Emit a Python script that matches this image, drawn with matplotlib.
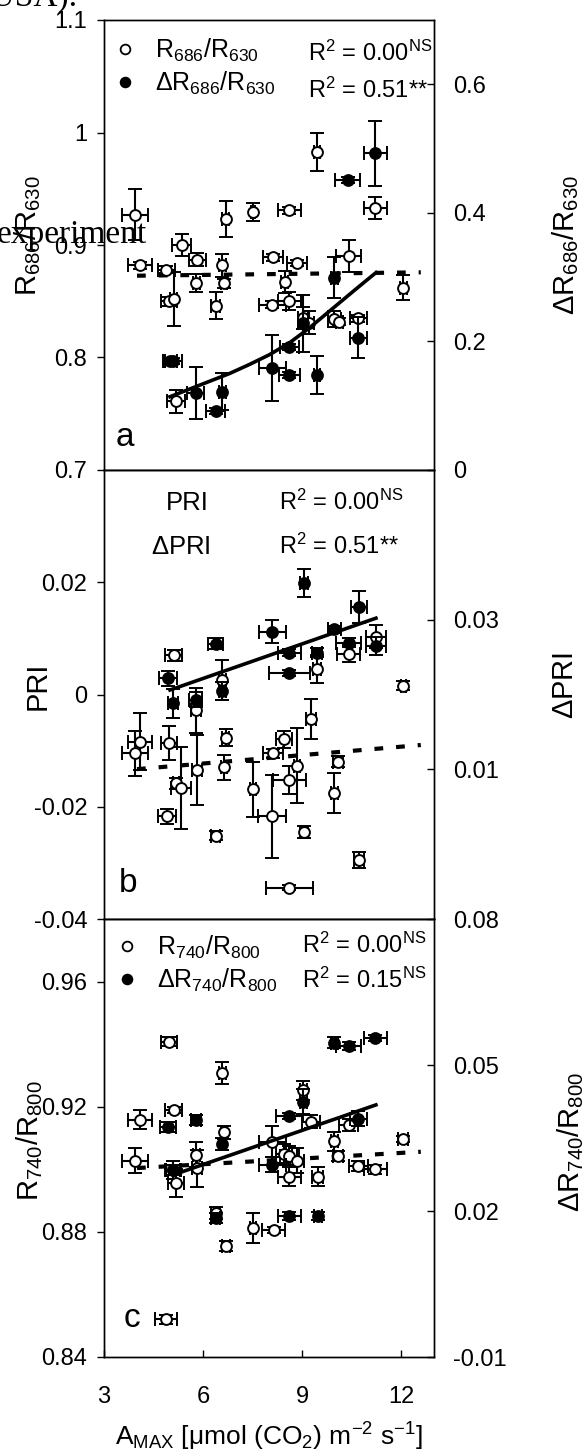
import numpy as np
import matplotlib
matplotlib.use('Agg')
import matplotlib.pyplot as plt
from matplotlib.lines import Line2D
from matplotlib.ticker import FuncFormatter

plt.rcParams['font.family'] = 'Liberation Sans'
plt.rcParams['mathtext.fontset'] = 'custom'
plt.rcParams['mathtext.rm'] = 'Liberation Sans'
plt.rcParams['mathtext.it'] = 'Liberation Sans:italic'
plt.rcParams['mathtext.default'] = 'regular'
plt.rcParams['axes.unicode_minus'] = False

# ---- panel a: R686/R630 (open, left) and dR686/R630 (filled, right)
a_open_x = [3.94, 5.35, 6.69, 7.51, 8.62, 9.46, 11.22, 4.09, 4.89, 5.83, 5.80, 6.59, 6.64, 4.97, 5.11,
            6.38, 8.12, 8.84, 8.47, 8.10, 8.62, 9.04, 9.22, 10.41, 9.98, 10.13, 10.71, 12.07, 5.18]
a_open_y = [0.927, 0.900, 0.923, 0.929, 0.931, 0.983, 0.933, 0.882, 0.878, 0.887, 0.866, 0.882, 0.866,
            0.850, 0.852, 0.846, 0.889, 0.884, 0.867, 0.847, 0.850, 0.835, 0.831, 0.890, 0.834, 0.832,
            0.835, 0.862, 0.761]
a_open_xerr = [0.40, 0.30, 0.10, 0.07, 0.35, 0.10, 0.35, 0.37, 0.25, 0.25, 0.10, 0.10, 0.08, 0.25, 0.10,
               0.15, 0.30, 0.30, 0.10, 0.40, 0.35, 0.15, 0.15, 0.38, 0.20, 0.10, 0.25, 0.10, 0.27]
a_open_yerr = [0.023, 0.010, 0.016, 0.008, 0.003, 0.017, 0.010, 0.003, 0.003, 0.006, 0.008, 0.010, 0.004,
               0.004, 0.024, 0.012, 0.003, 0.003, 0.010, 0.003, 0.008, 0.010, 0.010, 0.014, 0.007, 0.003,
               0.003, 0.011, 0.010]
a_fill_x = [11.22, 10.38, 9.98, 9.04, 10.71, 8.62, 8.10, 8.62, 9.46, 5.00, 5.10, 5.78, 6.59, 6.38]
a_fill_y = [0.4925, 0.451, 0.299, 0.228, 0.206, 0.191, 0.159, 0.148, 0.148, 0.170, 0.170, 0.120, 0.122, 0.092]
a_fill_xerr = [0.35, 0.37, 0.10, 0.15, 0.25, 0.30, 0.40, 0.32, 0.10, 0.20, 0.25, 0.25, 0.10, 0.30]
a_fill_yerr = [0.051, 0.005, 0.032, 0.045, 0.032, 0.005, 0.051, 0.005, 0.029, 0.005, 0.005, 0.040, 0.029, 0.005]
a_dash_x = [4.0, 12.6]
a_dash_y = [0.8727, 0.8757]
a_fit_x = [5.0, 5.9, 6.8, 7.4, 8.0, 8.6, 9.2, 9.9, 10.6, 11.24]
a_fit_y = [0.114, 0.132, 0.150, 0.164, 0.179, 0.197, 0.220, 0.250, 0.280, 0.307]

# ---- panel b: PRI (open, left) and dPRI (filled, right)
b_open_x = [11.24, 10.41, 9.46, 5.11, 6.59, 12.07, 5.78, 9.27, 4.09, 3.94, 4.97, 6.69, 8.45, 8.12, 8.85,
            5.82, 6.64, 10.08, 5.18, 5.33, 8.62, 7.51, 9.98, 4.91, 8.10, 6.38, 9.07, 10.73, 8.62]
b_open_y = [0.0103, 0.0073, 0.0045, 0.0070, 0.0026, 0.0016, -0.0028, -0.0044, -0.0084, -0.0105, -0.0087,
            -0.0077, -0.0080, -0.0105, -0.0127, -0.0135, -0.0130, -0.0120, -0.0158, -0.0166, -0.0152,
            -0.0169, -0.0176, -0.0217, -0.0217, -0.0252, -0.0245, -0.0295, -0.0344]
b_open_xerr = [0.30, 0.35, 0.12, 0.25, 0.10, 0.08, 0.15, 0.15, 0.37, 0.40, 0.25, 0.10, 0.25, 0.30, 0.10,
               0.15, 0.10, 0.15, 0.10, 0.30, 0.50, 0.10, 0.10, 0.28, 0.42, 0.15, 0.12, 0.15, 0.72]
b_open_yerr = [0.0020, 0.0015, 0.0025, 0.0010, 0.0035, 0.0008, 0.0040, 0.0036, 0.0051, 0.0040, 0.0030,
               0.0015, 0.0015, 0.0008, 0.0067, 0.0062, 0.0022, 0.0010, 0.0010, 0.0073, 0.0025, 0.0049,
               0.0036, 0.0013, 0.0074, 0.0008, 0.0010, 0.0015, 0.0004]
b_fill_x = [9.07, 10.73, 8.10, 9.98, 6.38, 10.41, 11.24, 8.62, 9.46, 8.62, 4.94, 6.59, 5.09, 5.78]
b_fill_y = [0.0349, 0.0317, 0.0284, 0.0287, 0.0268, 0.0269, 0.0265, 0.0256, 0.0256, 0.0229, 0.0222,
            0.0205, 0.0188, 0.0193]
b_fill_xerr = [0.12, 0.25, 0.41, 0.20, 0.22, 0.37, 0.30, 0.35, 0.15, 0.63, 0.27, 0.12, 0.15, 0.20]
b_fill_yerr = [0.0019, 0.0021, 0.0015, 0.0005, 0.0007, 0.0006, 0.0012, 0.0005, 0.0006, 0.0004, 0.0010,
               0.0012, 0.0019, 0.0010]
b_dash_x = [4.0, 12.6]
b_dash_y = [-0.0133, -0.0090]
b_fit_x = [5.0, 11.24]
b_fit_y = [0.0206, 0.0302]

# ---- panel c: R740/R800 (open, left) and dR740/R800 (filled, right)
c_open_x = [4.97, 6.59, 9.04, 5.11, 4.09, 9.27, 10.41, 6.64, 8.10, 9.98, 12.07, 5.80, 8.45, 8.62, 8.85,
            10.08, 3.94, 10.71, 11.22, 5.09, 5.18, 5.83, 8.62, 9.48, 6.38, 7.51, 8.14, 6.69, 4.89]
c_open_y = [0.9408, 0.9307, 0.9253, 0.9190, 0.9158, 0.9152, 0.9142, 0.9118, 0.9088, 0.9090, 0.9096,
            0.9046, 0.9050, 0.9043, 0.9028, 0.9043, 0.9028, 0.9010, 0.9000, 0.8998, 0.8955, 0.9003,
            0.8976, 0.8976, 0.8860, 0.8812, 0.8806, 0.8755, 0.8520]
c_open_xerr = [0.25, 0.10, 0.10, 0.25, 0.37, 0.28, 0.30, 0.10, 0.40, 0.10, 0.15, 0.10, 0.25, 0.30, 0.20,
               0.15, 0.40, 0.30, 0.35, 0.20, 0.25, 0.15, 0.35, 0.17, 0.15, 0.10, 0.35, 0.12, 0.33]
c_open_yerr = [0.0015, 0.0035, 0.0030, 0.0010, 0.0030, 0.0020, 0.0020, 0.0020, 0.0050, 0.0030, 0.0010,
               0.0040, 0.0030, 0.0030, 0.0040, 0.0015, 0.0040, 0.0015, 0.0015, 0.0030, 0.0045, 0.0060,
               0.0030, 0.0030, 0.0020, 0.0048, 0.0010, 0.0015, 0.0015]
c_fill_x = [11.22, 9.98, 10.41, 9.04, 8.62, 10.71, 5.78, 4.94, 6.59, 5.09, 8.10, 6.38, 8.62, 9.48]
c_fill_y = [0.0555, 0.0546, 0.0539, 0.0425, 0.0395, 0.0390, 0.0387, 0.0372, 0.0338, 0.0284, 0.0295,
            0.0185, 0.0190, 0.0190]
c_fill_xerr = [0.35, 0.10, 0.37, 0.10, 0.40, 0.25, 0.15, 0.25, 0.12, 0.25, 0.40, 0.15, 0.35, 0.12]
c_fill_yerr = [0.0006, 0.0012, 0.0008, 0.0025, 0.0006, 0.0015, 0.0010, 0.0010, 0.0012, 0.0010, 0.0015,
               0.0010, 0.0008, 0.0008]
c_dash_x = [4.0, 12.6]
c_dash_y = [0.9004, 0.9056]
c_fit_x = [5.3, 11.24]
c_fit_y = [0.0279, 0.0418]

X_TICKS = [3, 6, 9, 12]

W, H = 585, 1455
fig = plt.figure(figsize=(W / 100, H / 100), dpi=100)
fig.patch.set_facecolor('white')


def px_axes(top, bottom, left=104, right=434):
    return fig.add_axes([left / W, 1 - bottom / H, (right - left) / W, (bottom - top) / H])


def fmt(v, pos):
    return '%g' % round(v, 4)


EB = dict(ecolor='black', elinewidth=1.5, capsize=5, capthick=1.5, ms=7.8, mew=1.4, mec='black', ls='none')


def draw_panel(ax, ox, oy, oxe, oye, fx, fy, fxe, fye, dx, dy, tx, ty, ylim_l, ylim_r, lt, rt):
    axr = ax.twinx()
    ax.plot(dx, dy, color='black', lw=3.0, ls=(0, (2.1, 3.1)), zorder=2)
    ax.errorbar(ox, oy, xerr=oxe, yerr=oye, fmt='o', mfc='white', zorder=3, **EB)
    axr.plot(tx, ty, color='black', lw=2.6, zorder=2)
    axr.errorbar(fx, fy, xerr=fxe, yerr=fye, fmt='o', mfc='black', zorder=3, **EB)
    ax.set_xlim(3, 13)
    ax.set_ylim(*ylim_l)
    axr.set_ylim(*ylim_r)
    ax.set_yticks(lt)
    axr.set_yticks(rt)
    ax.yaxis.set_major_formatter(FuncFormatter(fmt))
    axr.yaxis.set_major_formatter(FuncFormatter(fmt))
    ax.tick_params(axis='y', direction='out', length=5, width=1, labelsize=17, pad=7)
    axr.tick_params(axis='y', direction='in', length=5, width=1, labelsize=17, pad=13.5)
    for a in (ax, axr):
        for s in a.spines.values():
            s.set_linewidth(1.0)
    return axr


ax_a = px_axes(20, 470)
ax_b = px_axes(470, 919)
ax_c = px_axes(919, 1357)

axr_a = draw_panel(ax_a, a_open_x, a_open_y, a_open_xerr, a_open_yerr,
                   a_fill_x, a_fill_y, a_fill_xerr, a_fill_yerr,
                   a_dash_x, a_dash_y, a_fit_x, a_fit_y,
                   (0.7, 1.1), (0, 0.7), [0.7, 0.8, 0.9, 1.0, 1.1], [0, 0.2, 0.4, 0.6])
axr_b = draw_panel(ax_b, b_open_x, b_open_y, b_open_xerr, b_open_yerr,
                   b_fill_x, b_fill_y, b_fill_xerr, b_fill_yerr,
                   b_dash_x, b_dash_y, b_fit_x, b_fit_y,
                   (-0.04, 0.04), (-0.01, 0.05), [-0.04, -0.02, 0, 0.02], [0.01, 0.03])
axr_c = draw_panel(ax_c, c_open_x, c_open_y, c_open_xerr, c_open_yerr,
                   c_fill_x, c_fill_y, c_fill_xerr, c_fill_yerr,
                   c_dash_x, c_dash_y, c_fit_x, c_fit_y,
                   (0.84, 0.98), (-0.01, 0.08), [0.84, 0.88, 0.92, 0.96], [-0.01, 0.02, 0.05, 0.08])

for a in (ax_a, ax_b):
    a.tick_params(axis='x', length=0, labelbottom=False)
for a in (axr_a, axr_b, axr_c):
    a.tick_params(axis='x', length=0)
ax_c.set_xticks(X_TICKS)
ax_c.tick_params(axis='x', direction='in', length=5, width=1, labelsize=17, pad=21)
ax_c.set_xlabel(r'A$_{MAX}$ [$\mu$mol (CO$_2$) m$^{-2}$ s$^{-1}$]', fontsize=19, va='center')
ax_c.xaxis.set_label_coords(0.5, -0.183)

# axis labels
ylab = dict(fontsize=21, va='center')
ax_a.set_ylabel(r'R$_{686}$/R$_{630}$', **ylab)
ax_a.yaxis.set_label_coords(-0.230, 0.52)
axr_a.set_ylabel(r'$\Delta$R$_{686}$/R$_{630}$', rotation=90, **ylab)
axr_a.yaxis.set_label_coords(1.400, 0.50)
ax_b.set_ylabel('PRI', **ylab)
ax_b.yaxis.set_label_coords(-0.200, 0.52)
axr_b.set_ylabel(r'$\Delta$PRI', rotation=90, **ylab)
axr_b.yaxis.set_label_coords(1.397, 0.52)
ax_c.set_ylabel(r'R$_{740}$/R$_{800}$', **ylab)
ax_c.yaxis.set_label_coords(-0.224, 0.494)
axr_c.set_ylabel(r'$\Delta$R$_{740}$/R$_{800}$', rotation=90, **ylab)
axr_c.yaxis.set_label_coords(1.415, 0.492)

# legends and statistics
open_h = Line2D([], [], marker='o', ls='none', mfc='white', mec='black', ms=7, mew=1.3)
fill_h = Line2D([], [], marker='o', ls='none', mfc='black', mec='black', ms=7, mew=1.3)
leg_kw = dict(loc='upper left', frameon=False, fontsize=18, handlelength=0.6,
              handletextpad=0.9, labelspacing=0.25, borderaxespad=0)
axr_a.legend([open_h, fill_h], [r'R$_{686}$/R$_{630}$', r'$\Delta$R$_{686}$/R$_{630}$'],
             bbox_to_anchor=(0.012, 0.985), **leg_kw)
axr_c.legend([open_h, fill_h], [r'R$_{740}$/R$_{800}$', r'$\Delta$R$_{740}$/R$_{800}$'],
             bbox_to_anchor=(0.018, 0.99), **leg_kw)

st = dict(fontsize=17, va='center', ha='left')
ax_a.text(0.618, 0.927, r'R$^2$ = 0.00$^{NS}$', transform=ax_a.transAxes, **st)
ax_a.text(0.618, 0.844, r'R$^2$ = 0.51**', transform=ax_a.transAxes, **st)
ax_b.text(0.530, 0.927, r'R$^2$ = 0.00$^{NS}$', transform=ax_b.transAxes, **st)
ax_b.text(0.530, 0.829, r'R$^2$ = 0.51**', transform=ax_b.transAxes, **st)
ax_b.text(0.252, 0.927, 'PRI', transform=ax_b.transAxes, fontsize=18.5, va='center', ha='center')
ax_b.text(0.232, 0.829, r'$\Delta$PRI', transform=ax_b.transAxes, fontsize=18.5, va='center', ha='center')
ax_c.text(0.600, 0.941, r'R$^2$ = 0.00$^{NS}$', transform=ax_c.transAxes, **st)
ax_c.text(0.600, 0.861, r'R$^2$ = 0.15$^{NS}$', transform=ax_c.transAxes, **st)

ax_a.text(0.064, 0.073, 'a', transform=ax_a.transAxes, fontsize=24, va='center', ha='center')
ax_b.text(0.073, 0.080, 'b', transform=ax_b.transAxes, fontsize=24, va='center', ha='center')
ax_c.text(0.085, 0.089, 'c', transform=ax_c.transAxes, fontsize=24, va='center', ha='center')

# stray text from the page the figure was cropped from
fig.text(-3 / W, 1 - 243 / H, 'experiment', family='Liberation Serif', fontsize=24, va='baseline')
fig.text(77 / W, 1 - 6 / H, 'K USA).', family='Liberation Serif', fontsize=24, va='baseline', ha='right')

fig.savefig('out.png', dpi=100, facecolor='white')
